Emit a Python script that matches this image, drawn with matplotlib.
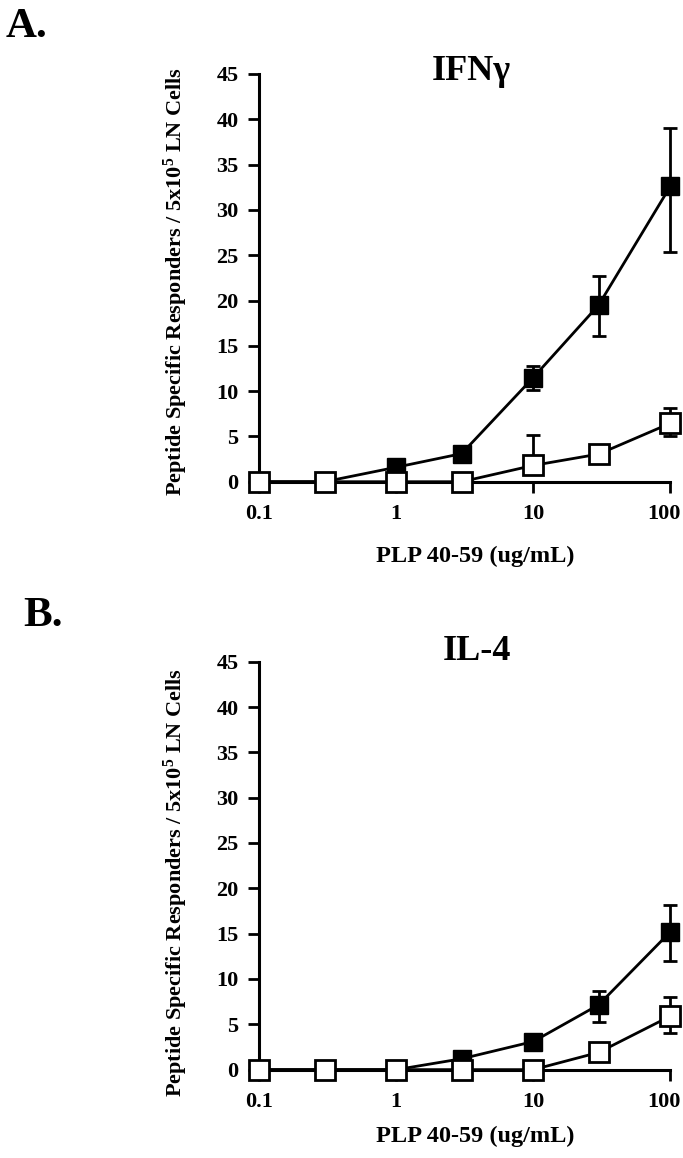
import matplotlib
matplotlib.use("Agg")
import matplotlib.pyplot as plt
import matplotlib.transforms as mtransforms

plt.rcParams["font.family"] = ["Liberation Serif", "DejaVu Serif"]
plt.rcParams["font.weight"] = "bold"
plt.rcParams["mathtext.fontset"] = "custom"
plt.rcParams["mathtext.rm"] = "Liberation Serif:bold"
plt.rcParams["mathtext.it"] = "Liberation Serif:bold"
plt.rcParams["mathtext.bf"] = "Liberation Serif:bold"

# PLP 40-59 doses (ug/mL)
doses = [0.1, 0.3, 1, 3, 10, 30, 100]
x_ticks = [0.1, 1, 10, 100]
x_tick_labels = ["0.1", "1", "10", "100"]
y_ticks = [0, 5, 10, 15, 20, 25, 30, 35, 40, 45]

# Panel A - IFNg responders (filled / open squares), error bars as (lower, upper)
ifn_filled = [0, 0, 1.6, 3.1, 11.5, 19.5, 32.6]
ifn_filled_lo = [0, 0, 0, 0, 1.4, 3.4, 7.3]
ifn_filled_hi = [0, 0, 0, 0, 1.3, 3.2, 6.4]
ifn_open = [0, 0, 0, 0, 1.8, 3.05, 6.45]
ifn_open_lo = [0, 0, 0, 0, 0, 0, 1.45]
ifn_open_hi = [0, 0, 0, 0, 3.35, 0, 1.65]

# Panel B - IL-4 responders
il4_filled = [0, 0, 0, 1.2, 3.1, 7.15, 15.2]
il4_filled_lo = [0, 0, 0, 0, 0, 1.9, 3.25]
il4_filled_hi = [0, 0, 0, 0, 0, 1.5, 3.0]
il4_open = [0, 0, 0, 0, 0, 1.9, 5.9]
il4_open_lo = [0, 0, 0, 0, 0, 0, 1.9]
il4_open_hi = [0, 0, 0, 0, 0, 0, 2.1]

ylabel = "Peptide Specific Responders / 5x10$^{5}$ LN Cells"
xlabel = "PLP 40-59 (ug/mL)"


def draw_panel(ax, filled, f_lo, f_hi, opn, o_lo, o_hi, title, title_pos, ylab_y, xlab_y):
    # error bars first so the squares sit on top
    for y, lo, hi, z in [(filled, f_lo, f_hi, 2), (opn, o_lo, o_hi, 3.5)]:
        eb = ax.errorbar(doses, y, yerr=[lo, hi], fmt="none", ecolor="black",
                         elinewidth=2, capsize=5, capthick=2, zorder=z)
        for art in eb.lines[1] + eb.lines[2]:
            art.set_clip_on(False)

    ax.plot(doses, filled, "-s", color="black", lw=2, ms=12.5, mew=1,
            mfc="black", mec="black", zorder=3, clip_on=False)
    ax.plot(doses, opn, "-s", color="black", lw=2, ms=13.8, mew=2,
            mfc="white", mec="black", zorder=4, clip_on=False)

    ax.set_xscale("log")
    ax.set_xlim(0.1, 100)
    ax.set_ylim(0, 45)
    ax.set_xticks(x_ticks)
    ax.set_xticklabels(x_tick_labels)
    ax.minorticks_off()
    ax.set_yticks(y_ticks)
    ax.tick_params(axis="both", direction="out", length=8, width=2, labelsize=16)
    ax.tick_params(axis="x", pad=8)
    ax.tick_params(axis="y", pad=7)

    # keep the "100" label inside the figure edge
    last = ax.get_xticklabels()[-1]
    last.set_transform(last.get_transform() +
                       mtransforms.ScaledTranslation(-6 / 100, 0, ax.figure.dpi_scale_trans))

    for s in ["top", "right"]:
        ax.spines[s].set_visible(False)
    for s in ["left", "bottom"]:
        ax.spines[s].set_linewidth(2.2)

    ax.set_ylabel(ylabel, fontsize=16, fontweight="bold")
    ax.yaxis.set_label_coords(-0.168, ylab_y)
    ax.set_xlabel(xlabel, fontsize=17.5, fontweight="bold")
    ax.xaxis.set_label_coords(0.525, xlab_y)

    ax.text(title_pos[0], title_pos[1], title, transform=ax.transAxes,
            ha="center", va="baseline", fontsize=26, fontweight="bold")


fig = plt.figure(figsize=(6.83, 11.58), dpi=100)
ax_a = fig.add_axes([0.3796, 0.5840, 0.6018, 0.3521])
ax_b = fig.add_axes([0.3796, 0.0763, 0.6018, 0.3523])

draw_panel(ax_a, ifn_filled, ifn_filled_lo, ifn_filled_hi,
           ifn_open, ifn_open_lo, ifn_open_hi, "IFNγ", (0.517, 0.985), 0.49, -0.157)
draw_panel(ax_b, il4_filled, il4_filled_lo, il4_filled_hi,
           il4_open, il4_open_lo, il4_open_hi, "IL-4", (0.53, 1.003), 0.458, -0.138)

fig.text(6 / 683, 1 - 36.7 / 1158, "A.", fontsize=31, fontweight="bold", ha="left", va="baseline")
fig.text(23 / 683, 1 - 626 / 1158, "B.", fontsize=31, fontweight="bold", ha="left", va="baseline")

fig.savefig("out.png", dpi=100)
